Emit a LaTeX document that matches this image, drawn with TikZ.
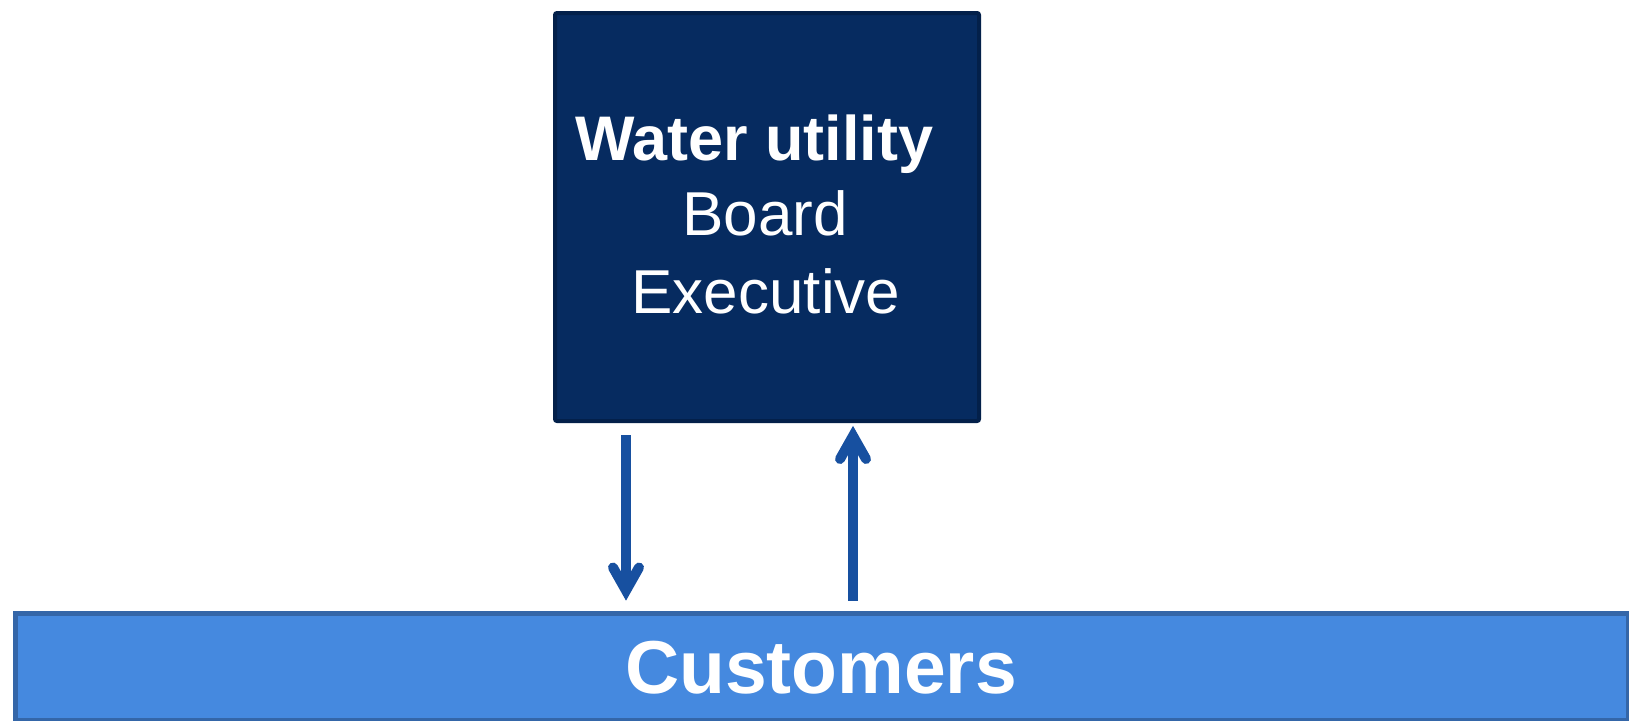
\documentclass[tikz,border=0pt]{standalone}
\usepackage{fontspec}
\setmainfont{Liberation Sans}
\usetikzlibrary{calc}

\definecolor{navyfill}{HTML}{062B60}
\definecolor{navyedge}{HTML}{03204A}
\definecolor{barfill}{HTML}{4589DF}
\definecolor{baredge}{HTML}{3466A8}
\definecolor{flowblue}{HTML}{1750A0}

\tikzset{
  orgbox/.style={draw=navyedge, fill=navyfill, line width=4pt, rounded corners=2pt,
                 anchor=north west, inner sep=0pt},
  custbar/.style={draw=baredge, fill=barfill, line width=5pt,
                  anchor=north west, inner sep=0pt},
  boxtext/.style={text=white, inner sep=0pt},
  flow/.style={draw=flowblue, line width=10pt},
  flowhead/.style={draw=flowblue, line width=10pt, line cap=round, line join=miter},
}

\begin{document}
\begin{tikzpicture}[x=1pt, y=-1pt]
  \useasboundingbox (0,0) rectangle (1629,720);

  % utility box and customer bar
  \node[orgbox, minimum width=424pt, minimum height=408pt] (utility) at (553,11) {};
  \node[custbar, minimum width=1613pt, minimum height=107pt] (customers) at (12.5,610.5) {};

  % labels
  \node[boxtext, anchor=base west, font=\fontsize{63}{63}\selectfont\bfseries] (title) at (575,160) {Water utility};
  \node[boxtext, anchor=base, font=\fontsize{62}{62}\selectfont] (board) at (765,235) {Board};
  \node[boxtext, anchor=base, font=\fontsize{62}{62}\selectfont] (exec) at (766,313) {Executive};
  \node[boxtext, anchor=base, font=\fontsize{75}{75}\selectfont\bfseries] (custlabel) at (821,693) {Customers};

  % end points of the two flows
  \coordinate (downstart) at ($(utility.south -| 626,0)+(0,12)$);
  \coordinate (downtip)   at ($(customers.north -| 626,0)+(0,-20)$);
  \coordinate (upstart)   at ($(customers.north -| 853,0)+(0,-10)$);
  \coordinate (uptip)     at ($(utility.south -| 853,0)+(0,13)$);

  % service flow down, feedback flow up
  \draw[flow] (downstart) -- (downtip);
  \draw[flowhead] ($(downtip)+(-13,-23)$) -- (downtip) -- ($(downtip)+(13,-23)$);
  \draw[flow] (upstart) -- (uptip);
  \draw[flowhead] ($(uptip)+(-13,23)$) -- (uptip) -- ($(uptip)+(13,23)$);
\end{tikzpicture}
\end{document}
